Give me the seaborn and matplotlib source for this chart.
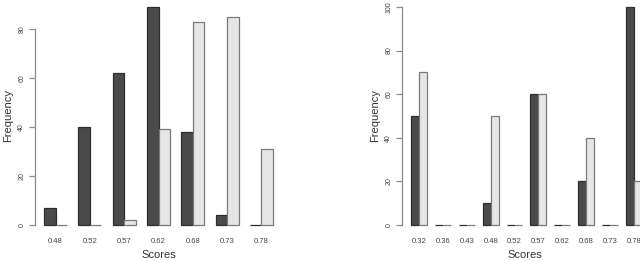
import pandas as pd
import matplotlib
matplotlib.use('Agg')
import matplotlib.pyplot as plt
import seaborn as sns

# data
left_scores = ['0.48', '0.52', '0.57', '0.62', '0.68', '0.73', '0.78']
left_dark = [7, 40, 62, 89, 38, 4, 0]
left_light = [0, 0, 2, 39, 83, 85, 31]

right_scores = ['0.32', '0.36', '0.43', '0.48', '0.52', '0.57', '0.62', '0.68', '0.73', '0.78']
right_dark = [50, 0, 0, 10, 0, 60, 0, 20, 0, 100]
right_light = [70, 0, 0, 50, 0, 60, 0, 40, 0, 20]

sns.set_style('white')
plt.rcParams['font.family'] = ['Liberation Sans', 'DejaVu Sans']

fig = plt.figure(figsize=(6.4, 2.61), dpi=100)
W, H = 640, 261


def make_ax(x0, x1):
    # plot region in pixels, top edge slightly above the image like the original
    top, bottom = -1.7, 233.7
    return fig.add_axes([x0 / W, (H - bottom) / H, (x1 - x0) / W, (bottom - top) / H])


def draw(ax, scores, dark, light, yticks):
    df = pd.DataFrame({
        'score': scores * 2,
        'freq': dark + light,
        'group': ['a'] * len(scores) + ['b'] * len(scores),
    })
    sns.barplot(data=df, x='score', y='freq', hue='group', order=scores,
                palette={'a': '#4a4a4a', 'b': '#e6e6e6'}, width=2 / 3,
                gap=0, legend=False, ax=ax, saturation=1, linewidth=0.9)
    for p in ax.patches:
        fc = p.get_facecolor()
        p.set_edgecolor('#2e2e2e' if fc[0] < 0.5 else '#7a7a7a')
        p.set_clip_on(False)
    m = max(dark + light)
    n = len(scores)
    ax.set_ylim(-0.04 * m, 1.04 * m)
    ax.set_xlim((0.2 - 2) / 3 if n == 7 else (-0.16 - 2) / 3,
                (3 * n + 0.8 - 2) / 3)
    for s in ['top', 'right', 'bottom']:
        ax.spines[s].set_visible(False)
    ax.spines['left'].set_bounds(0, yticks[-1])
    ax.spines['left'].set_color('#8a8a8a')
    ax.spines['left'].set_linewidth(0.9)
    ax.set_yticks(yticks)
    ax.set_yticklabels([str(t) for t in yticks], rotation=90, va='center',
                       fontsize=5, color='#444444')
    ax.tick_params(axis='y', length=4, width=0.9, color='#8a8a8a', pad=3, left=True)
    ax.tick_params(axis='x', length=0, pad=3, labelsize=5.5, labelcolor='#444444')
    ax.set_xlabel('Scores', fontsize=8, color='#333333', labelpad=4)
    ax.set_ylabel('Frequency', fontsize=8, color='#333333', labelpad=4)


ax1 = make_ax(35, 282)
draw(ax1, left_scores, left_dark, left_light, [0, 20, 40, 60, 80])
ax2 = make_ax(402, 648)
draw(ax2, right_scores, right_dark, right_light, [0, 20, 40, 60, 80, 100])

fig.savefig('out.png', dpi=100)
